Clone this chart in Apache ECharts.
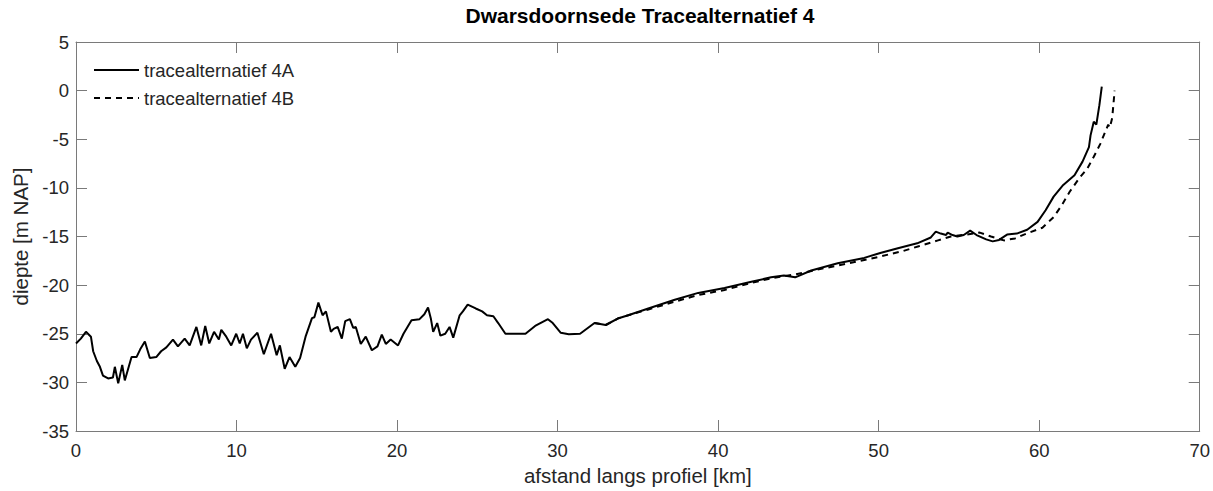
<!DOCTYPE html>
<html>
<head>
<meta charset="utf-8">
<script src="https://cdn.jsdelivr.net/npm/echarts@6/dist/echarts.min.js"></script>
<style>html,body{margin:0;padding:0;background:#fff}#c{width:1213px;height:491px}</style>
</head>
<body>
<div id="c"></div>
<script>
const titleText = 'Dwarsdoornsede Tracealternatief 4';
const xName = 'afstand langs profiel [km]';
const yName = 'diepte [m NAP]';
const seriesNames = ['tracealternatief 4A', 'tracealternatief 4B'];

const distA = [0,0.3,0.62,0.93,1.07,1.3,1.49,1.68,2.0,2.3,2.42,2.63,2.88,3.04,3.25,3.46,3.77,4.0,4.29,4.6,5.0,5.3,5.63,6.04,6.35,6.77,7.08,7.5,7.8,8.05,8.3,8.6,8.9,9.05,9.36,9.67,9.98,10.2,10.4,10.64,10.9,11.3,11.7,12.15,12.5,12.7,13.0,13.3,13.66,13.96,14.3,14.7,14.85,15.1,15.36,15.57,15.88,16.05,16.3,16.56,16.77,17.06,17.27,17.43,17.74,18.05,18.43,18.78,19.05,19.3,19.6,20.06,20.4,20.9,21.4,21.7,21.93,22.1,22.25,22.5,22.7,23.0,23.27,23.5,23.9,24.1,24.4,24.9,25.3,25.6,26.0,26.3,26.75,27.4,28.0,28.6,29.4,29.7,30.2,30.7,31.4,32.3,33.0,33.8,34.4,35.65,37.3,38.76,40.4,42.07,43.3,44.1,44.8,45.8,47.45,49.1,50.1,51.2,52.4,53.25,53.56,53.87,54.2,54.3,54.6,54.9,55.3,55.7,56.1,56.7,57.1,57.5,58.0,58.6,59.25,59.9,60.4,60.9,61.5,62.2,62.7,63.1,63.2,63.4,63.56,63.75,63.9];
const depthA = [-26.0,-25.5,-24.8,-25.3,-26.8,-27.8,-28.4,-29.3,-29.6,-29.5,-28.4,-30.1,-28.2,-29.8,-28.6,-27.4,-27.4,-26.6,-25.8,-27.5,-27.4,-26.8,-26.4,-25.6,-26.3,-25.5,-26.2,-24.3,-26.2,-24.2,-26.0,-24.8,-25.6,-24.6,-25.3,-26.2,-25.0,-26.0,-25.0,-26.5,-25.6,-24.9,-27.1,-25.0,-27.2,-26.2,-28.6,-27.4,-28.4,-27.5,-25.3,-23.4,-23.3,-21.8,-23.1,-22.7,-24.8,-24.5,-24.3,-25.5,-23.7,-23.5,-24.4,-24.3,-26.05,-25.3,-26.7,-26.3,-25.1,-26.05,-25.6,-26.2,-25.0,-23.6,-23.5,-23.0,-22.3,-23.4,-24.8,-23.9,-25.2,-25.0,-24.3,-25.4,-23.1,-22.7,-22.0,-22.4,-22.7,-23.1,-23.2,-23.9,-25.0,-25.0,-25.0,-24.2,-23.5,-23.9,-24.9,-25.05,-25.0,-23.9,-24.1,-23.4,-23.1,-22.4,-21.5,-20.8,-20.3,-19.65,-19.2,-19.0,-19.2,-18.5,-17.75,-17.2,-16.7,-16.2,-15.7,-15.1,-14.5,-14.7,-14.85,-14.6,-14.85,-15.0,-14.85,-14.4,-14.85,-15.3,-15.5,-15.35,-14.8,-14.7,-14.3,-13.5,-12.3,-10.9,-9.7,-8.7,-7.3,-5.8,-4.6,-3.2,-3.5,-1.5,0.4];

const distB = [32.3,33.0,33.8,34.4,35.65,37.3,38.8,40.4,42.0,43.3,44.8,46.5,48.0,50.0,51.5,52.5,53.7,54.5,55.5,56.3,57.0,57.8,58.5,59.2,60.2,60.9,61.4,61.9,62.5,63.0,63.4,63.8,64.1,64.3,64.4,64.55,64.7];
const depthB = [-23.9,-24.1,-23.4,-23.1,-22.5,-21.7,-21.0,-20.5,-19.8,-19.3,-18.9,-18.3,-17.8,-17.1,-16.5,-16.0,-15.4,-15.0,-14.8,-14.6,-15.0,-15.4,-15.2,-14.7,-14.1,-13.0,-11.8,-10.4,-9.0,-8.0,-6.8,-5.5,-4.3,-3.5,-3.8,-2.8,0.0];

const xMin = 0, xMax = 70, xStep = 10;
const yMin = -35, yMax = 5, yStep = 5;

const pairs = (xs, ys) => xs.map((x, i) => [x, ys[i]]);

const FONT = '"Liberation Sans", Arial, sans-serif';
const TXT = '#262626';
const AX = '#7a7a7a';

const chart = echarts.init(document.getElementById('c'), null, {renderer: 'svg'});
chart.setOption({
  animation: false,
  backgroundColor: '#fff',
  title: {
    text: titleText, left: 640, top: 5, padding: 0, textAlign: 'center',
    textStyle: {fontFamily: FONT, fontSize: 21, fontWeight: 'bold', color: '#000'}
  },
  legend: {
    orient: 'vertical', left: 93, top: 60, padding: 0,
    itemWidth: 45, itemHeight: 14, itemGap: 8,
    itemStyle: {opacity: 0},
    textStyle: {fontFamily: FONT, fontSize: 18.5, color: TXT, lineHeight: 20},
    data: seriesNames
  },
  grid: {left: 76, right: 10, top: 42, bottom: 60, containLabel: false},
  xAxis: [{
    type: 'value', min: xMin, max: xMax, interval: xStep,
    name: xName, nameLocation: 'middle', nameGap: 30,
    nameTextStyle: {fontFamily: FONT, fontSize: 20.5, color: TXT},
    axisLine: {onZero: false, lineStyle: {color: AX, width: 1}},
    axisTick: {inside: true, length: 11, lineStyle: {color: AX}},
    axisLabel: {margin: 10, fontFamily: FONT, fontSize: 18.5, color: TXT},
    splitLine: {show: false}
  }, {
    type: 'value', position: 'top', min: xMin, max: xMax, interval: xStep,
    axisLine: {show: true, onZero: false, lineStyle: {color: AX, width: 1}},
    axisTick: {inside: true, length: 11, lineStyle: {color: AX}},
    axisLabel: {show: false}, splitLine: {show: false}
  }],
  yAxis: [{
    type: 'value', min: yMin, max: yMax, interval: yStep,
    name: yName, nameLocation: 'middle', nameGap: 45, nameRotate: 90,
    nameTextStyle: {fontFamily: FONT, fontSize: 20.5, color: TXT},
    axisLine: {show: true, onZero: false, lineStyle: {color: AX, width: 1}},
    axisTick: {show: true, inside: true, length: 11, lineStyle: {color: AX}},
    axisLabel: {margin: 7, fontFamily: FONT, fontSize: 18.5, color: TXT},
    splitLine: {show: false}
  }, {
    type: 'value', position: 'right', min: yMin, max: yMax, interval: yStep,
    axisLine: {show: true, onZero: false, lineStyle: {color: AX, width: 1}},
    axisTick: {show: true, inside: true, length: 11, lineStyle: {color: AX}},
    axisLabel: {show: false}, splitLine: {show: false}
  }],
  series: [{
    name: seriesNames[1], type: 'line', symbol: 'none', smooth: false,
    data: pairs(distB, depthB),
    lineStyle: {color: '#000', width: 2, type: [6, 5]},
    itemStyle: {color: '#000'}
  }, {
    name: seriesNames[0], type: 'line', symbol: 'none', smooth: false,
    data: pairs(distA, depthA),
    lineStyle: {color: '#000', width: 2, type: 'solid'},
    itemStyle: {color: '#000'}
  }]
});
</script>
</body>
</html>
